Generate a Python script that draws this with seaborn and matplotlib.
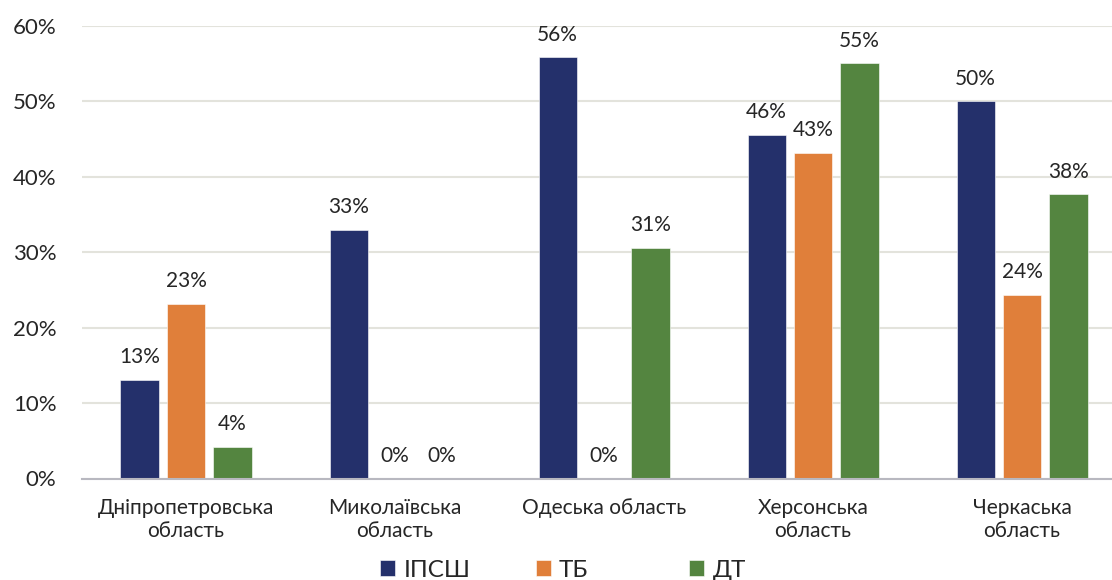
import matplotlib
matplotlib.use("Agg")
import matplotlib.pyplot as plt
import seaborn as sns
import pandas as pd

# Regions and the share of each indicator (percent)
regions = [
    "Дніпропетровська\nобласть",
    "Миколаївська\nобласть",
    "Одеська область",
    "Херсонська\nобласть",
    "Черкаська\nобласть",
]
series_names = ["ІПСШ", "ТБ", "ДТ"]
ipssh = [13.1, 33.0, 55.9, 45.6, 50.0]
tb = [23.2, 0.0, 0.0, 43.2, 24.4]
dt = [4.2, 0.0, 30.6, 55.1, 37.7]
y_ticks = [0, 10, 20, 30, 40, 50, 60]

colors = ["#24306B", "#E07F3A", "#548540"]
text_color = "#262626"

df = pd.DataFrame({
    "region": regions * 3,
    "series": [s for s in series_names for _ in regions],
    "value": ipssh + tb + dt,
})

sns.set_theme(style="white")
plt.rcParams["font.family"] = ["Lato", "DejaVu Sans"]
plt.rcParams["text.color"] = text_color

fig = plt.figure(figsize=(11.12, 5.8), dpi=100)
ax = fig.add_axes([0.0733, 0.175, 0.9398, 0.780])

sns.barplot(
    data=df, x="region", y="value", hue="series",
    order=regions, hue_order=series_names, palette=colors,
    width=0.667, gap=0.18, errorbar=None, ax=ax,
    edgecolor="#FFFFFF", linewidth=0.4, saturation=1,
)

ax.set_ylim(0, 60)
ax.set_xlim(-0.5, len(regions) - 0.5)
ax.set_yticks(y_ticks)
ax.set_yticklabels([f"{t}%" for t in y_ticks])
ax.yaxis.grid(True, color="#E3E3DC", linewidth=1.5)
ax.set_axisbelow(True)
for side in ["left", "right", "top"]:
    ax.spines[side].set_visible(False)
ax.spines["bottom"].set_color("#B8B8C0")
ax.spines["bottom"].set_linewidth(1.5)
ax.tick_params(axis="y", length=0, pad=18, labelsize=16, labelcolor=text_color)
ax.tick_params(axis="x", length=0, pad=14, labelsize=15, labelcolor=text_color)
ax.set_xlabel("")
ax.set_ylabel("")

for container in ax.containers:
    ax.bar_label(container, labels=[f"{b.get_height():.0f}%" for b in container],
                 padding=9, fontsize=15, color=text_color)

# Legend entries placed individually along the bottom
handles, labels = ax.get_legend_handles_labels()
ax.get_legend().remove()
legend_x = [0.342, 0.482, 0.620]
for h, lab, x in zip(handles, labels, legend_x):
    fig.legend([h], [lab], loc="center left", bbox_to_anchor=(x, 0.017),
               frameon=False, fontsize=17.5, handlelength=0.6, handleheight=0.6,
               handletextpad=0.35, borderpad=0, borderaxespad=0)

fig.savefig("out.png", dpi=100)
